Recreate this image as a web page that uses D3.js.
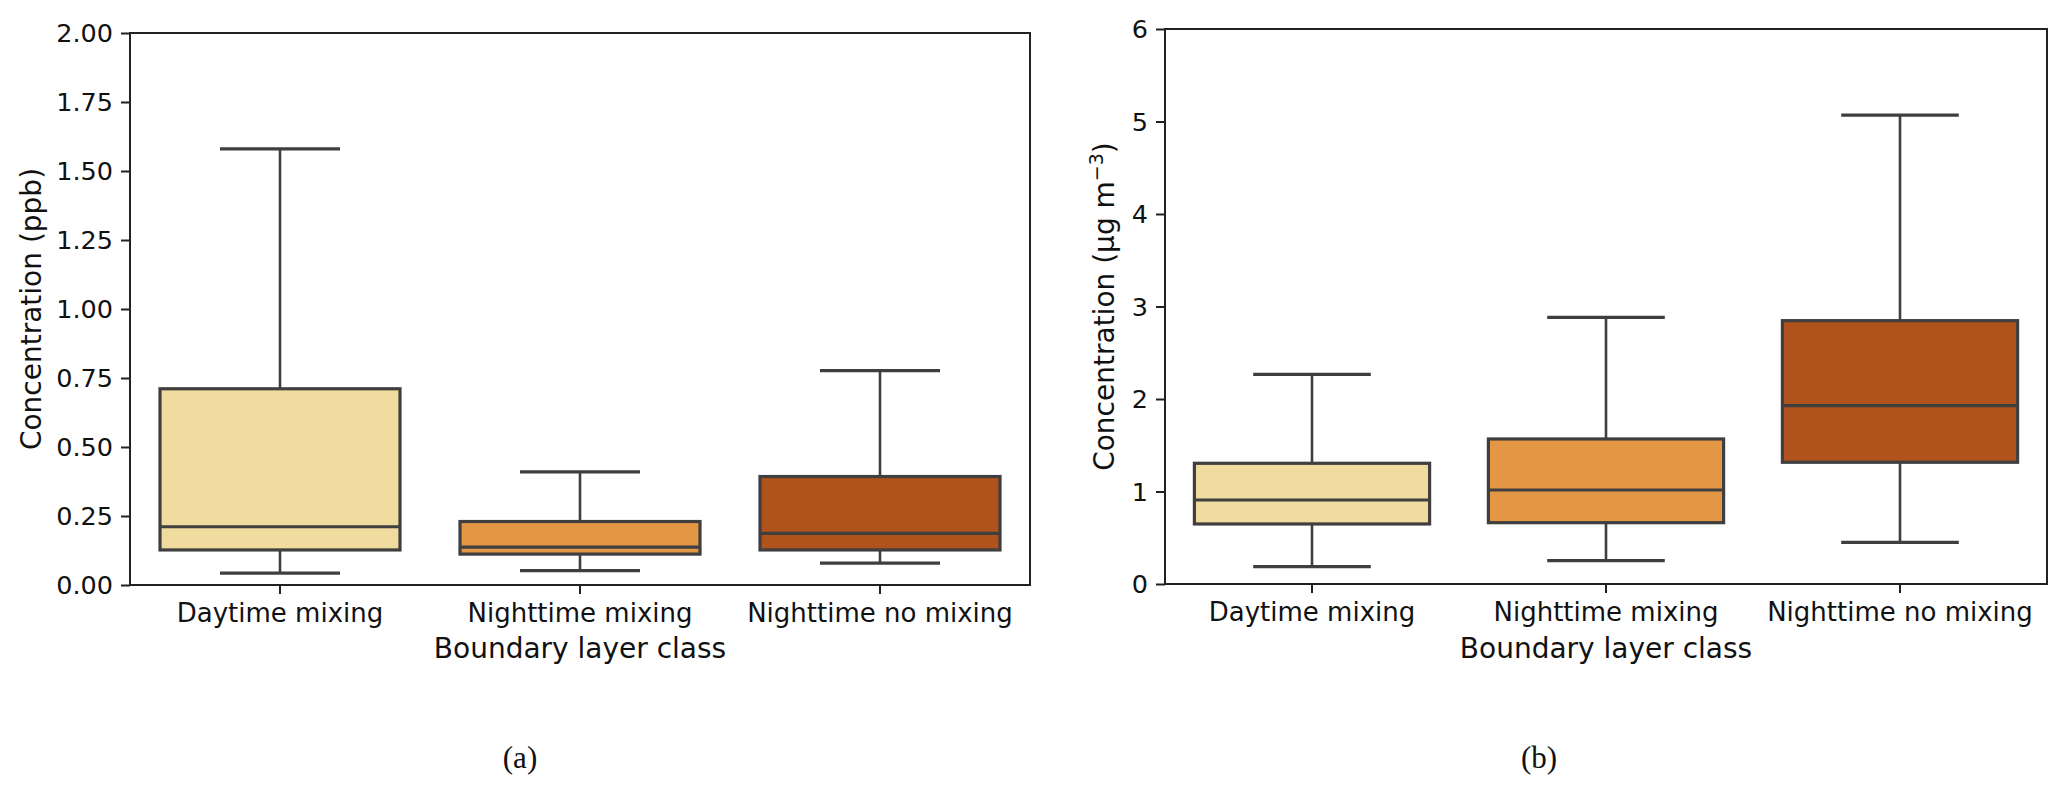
<!DOCTYPE html>
<html>
<head>
<meta charset="utf-8">
<script src="https://cdn.jsdelivr.net/npm/d3@7"></script>
<style>
  html, body { margin: 0; padding: 0; background: #fff; }
  svg { display: block; }
  text { font-family: "DejaVu Sans", sans-serif; fill: #111; }
</style>
</head>
<body>
<svg id="chart" width="2067" height="793"></svg>
<script>
// ---- data ----
const categories = ["Daytime mixing", "Nighttime mixing", "Nighttime no mixing"];
const colors = ["#f0dc9f", "#e39745", "#b0521b"];

// panel (a): ppb
const aWhiskLow = [0.043, 0.052, 0.079];
const aQ1       = [0.127, 0.112, 0.127];
const aMedian   = [0.211, 0.137, 0.187];
const aQ3       = [0.711, 0.230, 0.393];
const aWhiskHigh= [1.580, 0.410, 0.777];
const aTicks = [0, 0.25, 0.5, 0.75, 1.0, 1.25, 1.5, 1.75, 2.0];

// panel (b): µg m-3
const bWhiskLow = [0.187, 0.252, 0.451];
const bQ1       = [0.649, 0.663, 1.316];
const bMedian   = [0.908, 1.016, 1.928];
const bQ3       = [1.305, 1.568, 2.847];
const bWhiskHigh= [2.267, 2.883, 5.070];
const bTicks = [0, 1, 2, 3, 4, 5, 6];

const svg = d3.select("#chart");
const lineCol = "#3f3f3f";

function panel(opts) {
  const { left, right, top, bottom, yMax, ticks, fmt, lo, q1, med, q3, hi, ylabel, ylabelX, sub, subX } = opts;
  const g = svg.append("g");
  const x = d3.scaleBand().domain(categories).range([left, right]).paddingInner(0).paddingOuter(0);
  const y = d3.scaleLinear().domain([0, yMax]).range([bottom, top]);
  const bw = x.bandwidth() * 0.8;

  const data = categories.map((c, i) => ({ c, i, lo: lo[i], q1: q1[i], med: med[i], q3: q3[i], hi: hi[i] }));
  const grp = g.selectAll("g.box").data(data).enter().append("g");
  const cx = d => x(d.c) + x.bandwidth() / 2;

  // whiskers
  grp.append("line").attr("x1", cx).attr("x2", cx)
    .attr("y1", d => y(d.q3)).attr("y2", d => y(d.hi))
    .attr("stroke", lineCol).attr("stroke-width", 2.6);
  grp.append("line").attr("x1", cx).attr("x2", cx)
    .attr("y1", d => y(d.q1)).attr("y2", d => y(d.lo))
    .attr("stroke", lineCol).attr("stroke-width", 2.6);
  // caps
  ["hi", "lo"].forEach(k => {
    grp.append("line").attr("x1", d => cx(d) - bw / 4).attr("x2", d => cx(d) + bw / 4)
      .attr("y1", d => y(d[k])).attr("y2", d => y(d[k]))
      .attr("stroke", lineCol).attr("stroke-width", 3.2);
  });
  // box
  grp.append("rect")
    .attr("x", d => cx(d) - bw / 2).attr("width", bw)
    .attr("y", d => y(d.q3)).attr("height", d => y(d.q1) - y(d.q3))
    .attr("fill", d => colors[d.i]).attr("stroke", lineCol).attr("stroke-width", 3.2);
  // median
  grp.append("line").attr("x1", d => cx(d) - bw / 2).attr("x2", d => cx(d) + bw / 2)
    .attr("y1", d => y(d.med)).attr("y2", d => y(d.med))
    .attr("stroke", lineCol).attr("stroke-width", 3.2);

  // frame
  g.append("rect").attr("x", left).attr("y", top).attr("width", right - left).attr("height", bottom - top)
    .attr("fill", "none").attr("stroke", "#222").attr("stroke-width", 2);

  // axes
  const ya = g.append("g").attr("transform", `translate(${left},0)`)
    .call(d3.axisLeft(y).tickValues(ticks).tickFormat(fmt).tickSize(9).tickPadding(8));
  ya.select(".domain").remove();
  ya.selectAll("line").attr("stroke", "#222").attr("stroke-width", 2);
  ya.selectAll("text").style("font-size", "25.5px").attr("fill", "#111").attr("dy", "0.35em");

  const xa = g.append("g").attr("transform", `translate(0,${bottom})`)
    .call(d3.axisBottom(x).tickSize(9).tickPadding(8));
  xa.select(".domain").remove();
  xa.selectAll("line").attr("stroke", "#222").attr("stroke-width", 2);
  xa.selectAll("text").style("font-size", "26px").attr("fill", "#111").attr("dy", "0.78em");

  // axis labels
  g.append("text").attr("x", (left + right) / 2).attr("y", 658).attr("text-anchor", "middle")
    .style("font-size", "28px").text("Boundary layer class");
  const yl = g.append("text").attr("transform", `translate(${ylabelX},${(top + bottom) / 2}) rotate(-90)`)
    .attr("text-anchor", "middle").style("font-size", "28px");
  ylabel(yl);

  svg.append("text").attr("x", subX).attr("y", 768).attr("text-anchor", "middle")
    .style("font-family", "'Liberation Serif', 'Times New Roman', serif").style("font-size", "31px")
    .text(sub);
}

panel({
  left: 130, right: 1030, top: 33, bottom: 585, yMax: 2.0, ticks: aTicks,
  fmt: d3.format(".2f"), lo: aWhiskLow, q1: aQ1, med: aMedian, q3: aQ3, hi: aWhiskHigh,
  ylabel: t => t.text("Concentration (ppb)"), ylabelX: 41, sub: "(a)", subX: 520
});

panel({
  left: 1165, right: 2047, top: 29, bottom: 584, yMax: 6, ticks: bTicks,
  fmt: d3.format("d"), lo: bWhiskLow, q1: bQ1, med: bMedian, q3: bQ3, hi: bWhiskHigh,
  ylabel: t => {
    t.append("tspan").text("Concentration (µg m");
    t.append("tspan").attr("baseline-shift", "super").style("font-size", "19px").text("−3");
    t.append("tspan").text(")");
  },
  ylabelX: 1114, sub: "(b)", subX: 1539
});
</script>
</body>
</html>
